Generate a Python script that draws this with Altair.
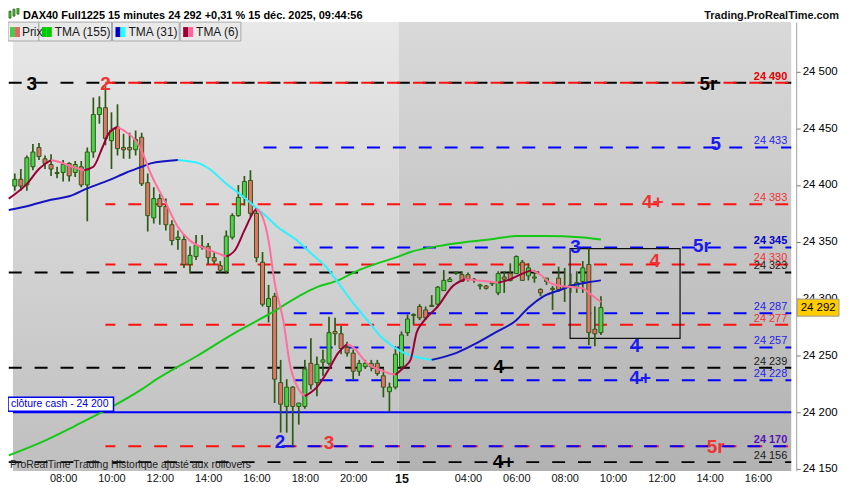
import altair as alt
import pandas as pd

# ---------------- data ----------------
# 15-minute bars; index 0 = 14 Dec 06:00, index 64 = 15 Dec 01:15 (overnight gap removed)
bar_open = [24399,24405,24400,24416,24433,24423,24418,24411,24411,24419,
            24411,24416,24400,24429,24462,24468,24439,24451,24433,24433,
            24431,24442,24402,24371,24388,24381,24365,24352,24352,24330,
            24337,24345,24346,24336,24329,24324,24354,24373,24389,24404,
            24375,24332,24293,24302,24226,24205,24222,24205,24205,24243,
            24226,24244,24243,24271,24269,24257,24252,24236,24240,24243,
            24243,24232,24218,24222,24240,24270,24285,24293,24290,24293,
            24295,24307,24315,24322,24321,24321,24316,24311,24311,24313,
            24305,24319,24322,24322,24332,24320,24318,24308,24315,24309,
            24318,24310,24312,24310,24315,24330,24273,24270]
bar_high = [24410,24414,24426,24436,24437,24426,24427,24416,24422,24420,
            24421,24421,24433,24477,24478,24487,24464,24471,24445,24446,
            24448,24446,24410,24398,24392,24388,24369,24360,24356,24346,
            24356,24356,24349,24341,24333,24360,24375,24400,24408,24413,
            24378,24341,24312,24305,24246,24229,24223,24208,24246,24265,
            24249,24255,24284,24283,24276,24262,24255,24246,24246,24246,
            24246,24238,24226,24258,24271,24286,24287,24295,24293,24303,
            24311,24325,24319,24324,24324,24323,24318,24313,24312,24315,
            24324,24324,24331,24338,24334,24331,24325,24309,24318,24311,
            24328,24327,24322,24324,24333,24344,24293,24302]
bar_low = [24395,24395,24395,24413,24422,24414,24408,24406,24403,24403,
           24407,24398,24368,24424,24454,24435,24414,24426,24423,24423,
           24426,24399,24359,24366,24365,24360,24347,24343,24327,24322,
           24334,24343,24330,24330,24323,24322,24352,24372,24382,24372,
           24332,24293,24279,24208,24182,24182,24170,24189,24203,24220,
           24214,24232,24241,24259,24251,24249,24229,24232,24238,24236,
           24232,24213,24200,24220,24238,24267,24277,24281,24281,24293,
           24293,24307,24315,24321,24315,24315,24314,24308,24308,24311,
           24303,24305,24315,24322,24316,24316,24314,24302,24312,24290,
           24306,24297,24305,24305,24305,24259,24258,24268]
bar_close = [24405,24399,24424,24429,24425,24419,24414,24410,24418,24408,
             24418,24400,24429,24462,24468,24441,24448,24432,24431,24431,
             24440,24401,24373,24388,24381,24365,24351,24354,24330,24338,
             24347,24346,24336,24333,24325,24355,24373,24389,24403,24375,
             24336,24295,24300,24229,24207,24222,24205,24208,24238,24224,
             24242,24246,24270,24269,24256,24252,24236,24243,24243,24240,
             24234,24222,24222,24251,24268,24282,24286,24283,24283,24294,
             24310,24316,24317,24323,24315,24317,24317,24312,24309,24314,
             24322,24317,24316,24337,24316,24327,24319,24305,24318,24308,
             24308,24309,24311,24314,24327,24270,24269,24292]

tma155_i = [-1, 5, 10, 15.5, 21, 23.5, 30, 36.5, 42, 47, 50, 53.5, 56.5, 60, 63, 65.5, 71, 75, 78.5, 83, 88, 93.5, 97]
tma155_v = [24162, 24175, 24188, 24203, 24220, 24229, 24249, 24270, 24286, 24302, 24310, 24316, 24324, 24331,
            24336, 24341, 24347, 24350, 24352, 24355, 24355, 24354, 24352]

tma31_i = [-1, 2.5, 6, 9, 12, 15.5, 18.5, 21, 22.5, 27, 30.5, 32.5, 35, 37.5, 39.5, 41.5, 43.5, 46.5, 49, 51.5,
           53.5, 56, 58.5, 60.5, 62.5, 64.5, 69, 73, 76.5, 79.5, 83, 85, 87.5, 90.5, 92.5, 94.5, 97]
tma31_v = [24378, 24382, 24387, 24390, 24397, 24404, 24411, 24416, 24419, 24422, 24419, 24413, 24401, 24391,
           24382, 24373, 24363, 24352, 24340, 24328, 24314, 24296, 24280, 24267, 24258, 24252, 24246, 24252,
           24261, 24270, 24281, 24292, 24302, 24308, 24312, 24314, 24316]

tma6_i = [-1, 2, 4, 6, 7.5, 9.5, 11.5, 13, 14.5, 15.5, 17, 18, 20, 21, 22.5, 25, 27, 29, 31.5, 33.5, 35, 36.5,
          38, 39.5, 40, 41, 42, 43, 44.5, 45.5, 47, 48, 50, 52, 53.5, 55, 56, 58.5, 60.5, 62, 63, 64.5, 65.5,
          66.5, 67.5, 70, 72.5, 74.5, 76.5, 78.5, 80, 81.5, 84, 85.5, 87, 88.5, 90.5, 92.5, 94, 95, 97]
tma6_v = [24388, 24401, 24414, 24422, 24420, 24416, 24413, 24416, 24433, 24445, 24451, 24448, 24439, 24430,
          24410, 24384, 24363, 24351, 24344, 24340, 24337, 24343, 24360, 24376, 24379, 24372, 24351, 24314,
          24279, 24243, 24220, 24214, 24222, 24238, 24252, 24260, 24257, 24242, 24237, 24234, 24233, 24240,
          24246, 24270, 24279, 24293, 24311, 24317, 24316, 24315, 24314, 24316, 24322, 24325, 24321, 24314,
          24311, 24310, 24309, 24305, 24297]

# horizontal levels (dashed): price, starting bar, kind
level_price = [24490, 24490, 24433, 24383, 24345, 24330, 24323, 24287, 24277, 24257, 24239, 24228, 24170, 24170, 24156]
level_start = [-1, 15, 41, 15, 46, 15, -1, 46, 15, 46, -1, 46, 15, 44, -1]
level_kind = ["k", "r", "b", "r", "b", "r", "k", "b", "r", "b", "k", "b", "r", "b", "k"]

# value tags written at the right end of the levels
tag_price = [24490, 24433, 24383, 24345, 24330, 24323, 24287, 24277, 24257, 24239, 24228, 24170, 24156]
tag_color = ["#e00000", "#2323ee", "#f03535", "#0000c8", "#f03535", "#1a1a1a", "#2323ee", "#f03535",
             "#2323ee", "#1a1a1a", "#2323ee", "#5a12b8", "#1a1a1a"]
tag_bold = [True, False, False, True, False, False, False, False, False, False, False, True, False]

# big wave labels
big_i = [2.8, 15, 114.8, 116, 105.6, 113.7, 92.8, 105.9, 102.7, 80.1, 103.5, 43.9, 52, 116, 80.9]
big_p = [24489, 24489, 24489, 24436, 24385, 24346, 24345, 24333, 24258, 24240, 24230, 24174, 24173, 24169, 24156]
big_t = ["3", "2", "5r", "5", "4+", "5r", "3", "4", "4", "4", "4+", "2", "3", "5r", "4+"]
big_c = ["#000000", "#ee3333", "#000000", "#1a1aee", "#ee3333", "#1a1aee", "#1a1aee", "#ee3333", "#1a1aee",
         "#000000", "#1a1aee", "#1a1aee", "#ee3333", "#ee3333", "#000000"]

cash_close = 24200
last_price = 24292
box_i = [91.9, 110.1]
box_p = [24265, 24344]
day_break = 63.5

tick_idx = [8, 16, 24, 32, 40, 48, 56, 64, 75, 83, 91, 99, 107, 115, 123]
tick_lab = ["08:00", "10:00", "12:00", "14:00", "16:00", "18:00", "20:00", "15",
            "04:00", "06:00", "08:00", "10:00", "12:00", "14:00", "16:00"]
price_ticks = [24150, 24200, 24250, 24300, 24350, 24400, 24450, 24500]

# ---------------- styling ----------------
FONT = "Liberation Sans"
WICK = "#2c5a12"
UPC = "#4bd24b"
DNC = "#e2736b"
LVL = {"k": "#000000", "r": "#ff1010", "b": "#0000ff"}
DASH_OFF = {"k": 0, "r": 3, "b": 25}
W, H = 792, 451
X_DOM = [-0.3, 128.5]
Y_DOM = [24148.25, 24543.4]

xs = alt.Scale(domain=X_DOM, nice=False, zero=False)
ys = alt.Scale(domain=Y_DOM, nice=False, zero=False)

label_expr = ("[" + ",".join("'%s'" % t for t in tick_lab) + "][indexof(["
              + ",".join(str(v) for v in tick_idx) + "], datum.value)]")
xaxis = alt.Axis(values=tick_idx, labelExpr=label_expr, title=None, grid=False, ticks=False,
                 domain=False, labelFont=FONT, labelColor="#111111", labelPadding=2,
                 labelFlush=False, labelBound=False, labelOverlap=False,
                 labelFontSize={"condition": {"test": "datum.value === 64", "value": 12.5}, "value": 11},
                 labelFontWeight={"condition": {"test": "datum.value === 64", "value": "bold"},
                                  "value": "normal"})
yaxis = alt.Axis(orient="right", values=price_ticks, title=None, grid=False,
                 labelExpr="replace(format(datum.value, ','), ',', ' ')",
                 tickSize=4, tickColor="#777777", domainColor="#a0a0a0", labelFont=FONT,
                 labelFontSize=11.5, labelColor="#000000", labelPadding=2)


def X(field):
    return alt.X(field, type="quantitative", scale=xs, axis=xaxis)


def Y(field):
    return alt.Y(field, type="quantitative", scale=ys, axis=yaxis)


ONE = pd.DataFrame({"k": [0]})


def ptext(x, y, txt, **kw):
    return alt.Chart(ONE).mark_text(**kw).encode(x=alt.value(x), y=alt.value(y), text=alt.value(txt))


def prect(x1, x2, y1, y2, **kw):
    return alt.Chart(ONE).mark_rect(**kw).encode(x=alt.value(x1), x2=alt.value(x2),
                                                 y=alt.value(y1), y2=alt.value(y2))


# ---------------- tables ----------------
n = len(bar_open)
candles = pd.DataFrame({
    "i": list(range(n)), "o": bar_open, "h": bar_high, "l": bar_low, "c": bar_close,
})
candles["fill"] = [UPC if c >= o else DNC for o, c in zip(bar_open, bar_close)]


def segments(idx, val, up, down):
    m = len(idx)
    cols = [up if val[k + 1] > val[k] else down for k in range(m - 1)]
    segs, start = [], 0
    for k in range(1, m - 1):
        if cols[k] != cols[k - 1]:
            segs.append((start, k, cols[k - 1]))
            start = k
    segs.append((start, m - 1, cols[-1]))
    rows = []
    for s, (a, b, col) in enumerate(segs):
        for j in range(a, b + 1):
            rows.append({"i": idx[j], "v": val[j], "seg": s, "col": col})
    return pd.DataFrame(rows)


t155 = pd.DataFrame({"i": tma155_i, "v": tma155_v})
t31 = segments(tma31_i, tma31_v, "#1414c0", "#2ef2ff")
t6 = segments(tma6_i, tma6_v, "#990035", "#ff6f9c")

levels = pd.DataFrame({"s": level_start, "p": level_price, "kind": level_kind})
levels["e"] = X_DOM[1]

tags = pd.DataFrame({"p": tag_price, "col": tag_color, "bold": tag_bold})
tags["t"] = ["%d %03d" % (p // 1000, p % 1000) for p in tag_price]
tags["xr"] = X_DOM[1]

bigs = pd.DataFrame({"i": big_i, "p": big_p, "t": big_t, "col": big_c})

# ---------------- layers ----------------
layers = []


def grad(c1, c2):
    return alt.Gradient(gradient="linear", x1=0, x2=0, y1=0, y2=1,
                        stops=[alt.GradientStop(color=c1, offset=0), alt.GradientStop(color=c2, offset=1)])


bg = pd.DataFrame({"a": [X_DOM[0], day_break], "b": [day_break, X_DOM[1]]})
layers.append(alt.Chart(bg.iloc[[0]]).mark_rect(fill=grad("#e8e8e8", "#bfbfbf")).encode(
    x=X("a"), x2="b", y=alt.value(0), y2=alt.value(H)))
layers.append(alt.Chart(bg.iloc[[1]]).mark_rect(fill=grad("#d9d9d9", "#b2b2b2")).encode(
    x=X("a"), x2="b", y=alt.value(0), y2=alt.value(H)))

# dashed levels
for kind in ["k", "r", "b"]:
    sub = levels[levels["kind"] == kind]
    layers.append(alt.Chart(sub).mark_rule(color=LVL[kind], strokeWidth=2, strokeDash=[13, 13],
                                           strokeDashOffset=DASH_OFF[kind], clip=True).encode(
        x=X("s"), x2="e", y=Y("p")))

# cash close line
layers.append(alt.Chart(pd.DataFrame({"p": [cash_close], "s": [X_DOM[0]], "e": [X_DOM[1]]}))
              .mark_rule(color="#0000ff", strokeWidth=2).encode(x=X("s"), x2="e", y=Y("p")))

# box
layers.append(alt.Chart(pd.DataFrame({"a": [box_i[0]], "b": [box_i[1]], "p0": [box_p[0]], "p1": [box_p[1]]}))
              .mark_rect(fillOpacity=0, stroke="#111111", strokeWidth=1.2).encode(
    x=X("a"), x2="b", y=Y("p0"), y2="p1"))

# candles
layers.append(alt.Chart(candles).mark_rule(color=WICK, strokeWidth=1.7, clip=True).encode(
    x=X("i"), y=Y("l"), y2="h"))
layers.append(alt.Chart(candles).mark_bar(width=4, stroke=WICK, strokeWidth=1, clip=True).encode(
    x=X("i"), y=Y("o"), y2="c", fill=alt.Fill("fill:N", scale=None)))

# moving averages
layers.append(alt.Chart(t155).mark_line(color="#16c816", strokeWidth=2, interpolate="monotone", clip=True)
              .encode(x=X("i"), y=Y("v")))
layers.append(alt.Chart(t31).mark_line(strokeWidth=2, interpolate="monotone", clip=True).encode(
    x=X("i"), y=Y("v"), detail="seg:N", color=alt.Color("col:N", scale=None)))
layers.append(alt.Chart(t6).mark_line(strokeWidth=2, interpolate="monotone", clip=True).encode(
    x=X("i"), y=Y("v"), detail="seg:N", color=alt.Color("col:N", scale=None)))

# value tags at right
for b in [False, True]:
    sub = tags[tags["bold"] == b]
    layers.append(alt.Chart(sub).mark_text(font=FONT, fontSize=11, align="right", baseline="bottom",
                                           dx=-4, dy=-1, fontWeight="bold" if b else "normal").encode(
        x=X("xr"), y=Y("p"), text="t:N", color=alt.Color("col:N", scale=None)))

# big wave labels
layers.append(alt.Chart(bigs).mark_text(font=FONT, fontSize=19, fontWeight="bold", align="center",
                                        baseline="middle").encode(
    x=X("i"), y=Y("p"), text="t:N", color=alt.Color("col:N", scale=None)))

# cash close tag
layers.append(prect(0, 106, 377, 391, fill="#ffffff", stroke="#0000ee", strokeWidth=1.5))
layers.append(ptext(3, 384, "clôture cash -  24 200", font=FONT, fontSize=10.5, color="#0000dd",
                    align="left", baseline="middle"))

# last price tag on the axis
layers.append(alt.Chart(pd.DataFrame({"p0": [last_price + 7.5], "p1": [last_price - 7.5]}))
              .mark_rect(fill="#ffcc00", stroke="#999999", strokeWidth=1).encode(
    x=alt.value(793), x2=alt.value(835), y=Y("p0"), y2="p1"))
layers.append(alt.Chart(pd.DataFrame({"p": [last_price]})).mark_text(
    font=FONT, fontSize=11.5, color="#000000", align="center", baseline="middle").encode(
    x=alt.value(814), y=Y("p"), text=alt.value("24 292")))

# footer text
layers.append(ptext(2, 450, "ProRealTime Trading  Historique ajusté aux rollovers", font=FONT,
                    fontSize=10.5, color="#222222", align="left", baseline="bottom"))

# header
layers.append(prect(1, 3, -11, -4, fill="#44cc44", stroke=WICK, strokeWidth=0.8))
layers.append(prect(5, 7, -13, -6, fill="#44cc44", stroke=WICK, strokeWidth=0.8))
layers.append(prect(9, 11, -15, -8, fill="#44cc44", stroke=WICK, strokeWidth=0.8))
layers.append(ptext(15, -3, "DAX40 Full1225 15 minutes 24 292 +0,31 % 15 déc. 2025, 09:44:56",
                    font=FONT, fontSize=11, fontWeight="bold", color="#000000", align="left",
                    baseline="alphabetic"))
layers.append(ptext(835, -3, "Trading.ProRealTime.com", font=FONT, fontSize=11, fontWeight="bold",
                    color="#111111", align="right", baseline="alphabetic"))

# legend row
legend_boxes = [(0, 31), (31, 104), (105, 172), (173, 234)]
for a, b in legend_boxes:
    layers.append(prect(a, b, 0, 19, fill="#e9e9e9", stroke="#a8a8a8", strokeWidth=1))
legend_icons = [(2, "#4bc94b", "#e06666"), (34, "#00cc00", "#00cc00"),
                (108, "#0000cc", "#22ffff"), (176, "#990033", "#ff6699")]
for x0, c1, c2 in legend_icons:
    layers.append(prect(x0, x0 + 5, 5, 15, fill=c1))
    layers.append(prect(x0 + 5, x0 + 10, 5, 15, fill=c2))
legend_text = [(14, "Prix"), (47, "TMA (155)"), (121, "TMA (31)"), (189, "TMA (6)")]
for x0, t in legend_text:
    layers.append(ptext(x0, 10, t, font=FONT, fontSize=12, color="#1a1a1a", align="left",
                        baseline="middle"))

chart = alt.layer(*layers).properties(
    width=W, height=H,
    padding={"left": 0, "top": 13, "right": 46, "bottom": 14},
    autosize=alt.AutoSizeParams(type="none"),
    background="#ffffff",
).configure_view(stroke=None)

chart.save("out.html", embed_options={"renderer": "svg", "actions": False})
